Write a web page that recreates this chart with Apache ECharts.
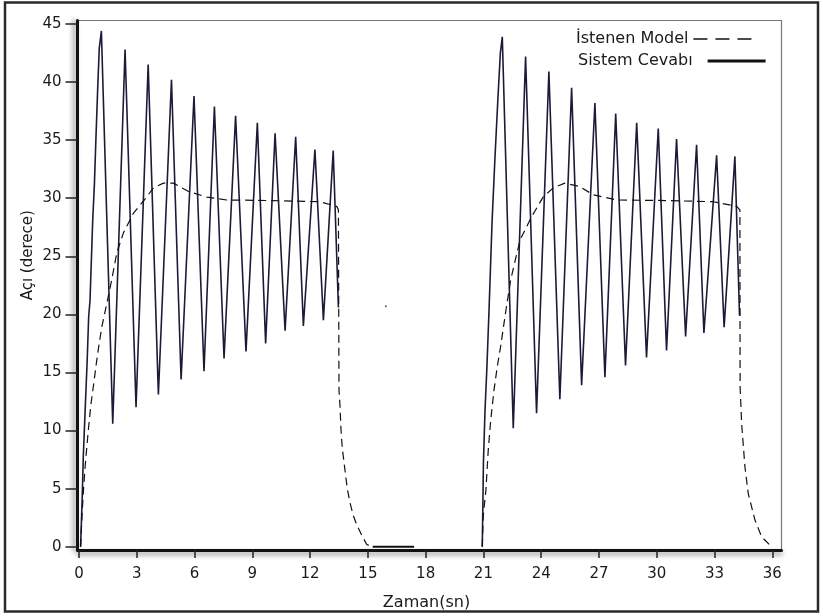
<!DOCTYPE html>
<html><head><meta charset="utf-8">
<script src="https://cdn.jsdelivr.net/npm/echarts@6/dist/echarts.min.js"></script>
<style>html,body{margin:0;padding:0;background:#fff}#c{width:823px;height:616px}</style>
</head><body><div id="c"></div>
<script>
// ---- tick labels ----
const xTicks = [0, 3, 6, 9, 12, 15, 18, 21, 24, 27, 30, 33, 36];
const yTicks = [0, 5, 10, 15, 20, 25, 30, 35, 40, 45];

// ---- Sistem Cevabı (system response), segment 1 ----
const sysRise1 = [[0.08,0],[0.16,4.0],[0.22,7.7],[0.33,12.3],[0.42,15.9],[0.50,19.8],[0.57,21.2],[0.71,28.1],[0.80,31.3],[0.88,35.3],[0.97,39.5],[1.05,42.9]];
const sysPeak1T = [1.16, 2.39, 3.59, 4.80, 5.97, 7.03, 8.13, 9.26, 10.18, 11.25, 12.25, 13.20];
const sysPeak1V = [44.4, 42.8, 41.5, 40.2, 38.8, 37.9, 37.1, 36.5, 35.6, 35.3, 34.2, 34.1];
const sysTrough1T = [1.75, 2.96, 4.12, 5.30, 6.49, 7.53, 8.67, 9.69, 10.70, 11.65, 12.69, 13.47];
const sysTrough1V = [10.6, 12.0, 13.1, 14.4, 15.1, 16.2, 16.8, 17.5, 18.6, 19.0, 19.5, 20.6];

// ---- Sistem Cevabı, flat zero part ----
const sysZero = [[15.25,0],[17.4,0]];

// ---- Sistem Cevabı, segment 2 ----
const sysRise2 = [[20.94,0],[20.97,3.4],[21.00,7.2],[21.08,11.6],[21.18,15.4],[21.29,20.3],[21.45,28.0],[21.60,33.5],[21.75,38.5],[21.88,42.5]];
const sysPeak2T = [21.98, 23.19, 24.40, 25.58, 26.79, 27.87, 28.96, 30.08, 31.03, 32.07, 33.11, 34.06];
const sysPeak2V = [43.9, 42.2, 40.9, 39.5, 38.2, 37.3, 36.5, 36.0, 35.1, 34.6, 33.7, 33.6];
const sysTrough2T = [22.55, 23.76, 24.97, 26.10, 27.31, 28.38, 29.47, 30.51, 31.50, 32.45, 33.50, 34.30];
const sysTrough2V = [10.2, 11.5, 12.7, 13.9, 14.6, 15.6, 16.3, 16.9, 18.1, 18.4, 18.9, 19.9];

// ---- İstenen Model (desired model) ----
const model1 = [[0.08,0],[0.15,2.5],[0.22,4.6],[0.32,7.0],[0.48,10.0],[0.62,12.3],[0.76,14.0],[0.90,15.8],[1.02,17.2],[1.19,19.0],[1.31,19.9],[1.45,21.0],[1.70,23.0],[1.96,25.3],[2.30,27.0],[2.82,28.7],[3.51,30.1],[3.86,30.9],[4.38,31.3],[4.90,31.3],[5.67,30.6],[6.63,30.1],[7.67,29.85],[10.0,29.8],[12.5,29.7],[13.38,29.3],[13.47,29.0],[13.50,13.5],[13.55,12.2],[13.60,10.2],[13.67,8.5],[13.81,6.6],[13.93,5.0],[14.07,3.8],[14.24,2.7],[14.42,1.9],[14.68,1.0],[14.94,0.2],[15.2,0]];
const model2 = [[20.94,0],[20.99,2.6],[21.13,4.9],[21.25,8.3],[21.38,10.9],[21.55,13.5],[21.72,15.5],[21.88,17.1],[22.2,20.7],[22.42,23.0],[22.9,26.4],[23.5,28.4],[24.1,30.1],[24.63,30.9],[25.23,31.3],[26.0,31.0],[26.7,30.3],[27.92,29.85],[30.5,29.8],[32.93,29.7],[34.15,29.3],[34.32,29.0],[34.33,13.8],[34.41,10.6],[34.58,6.9],[34.75,4.6],[35.1,2.3],[35.45,0.86],[35.96,0]];

// stray sample
const strayDot = [[15.93, 20.7]];

function buildSys(rise, pT, pV, tT, tV) {
  const d = rise.slice();
  for (let i = 0; i < pT.length; i++) {
    d.push([pT[i], pV[i]]);
    d.push([tT[i], tV[i]]);
  }
  return d;
}

const SYS = 'Sistem Cevabı', MOD = 'İstenen Model';
const sysColor = '#1b1b38', modColor = '#111';
const font = 'DejaVu Sans';

const chart = echarts.init(document.getElementById('c'), null, {renderer: 'canvas'});
const sysLine = {type: 'line', name: SYS, symbol: 'none', z: 3,
  lineStyle: {color: sysColor, width: 1.6}, itemStyle: {color: sysColor}};
const modLine = {type: 'line', name: MOD, symbol: 'none', z: 4,
  lineStyle: {color: modColor, width: 1.2, type: [8, 5]}, itemStyle: {color: modColor}};

chart.setOption({
  animation: false,
  backgroundColor: '#fff',
  grid: {left: 77.5, right: 41.5, top: 20.5, bottom: 66, show: true, borderColor: '#777', borderWidth: 1.2, backgroundColor: 'transparent'},
  legend: [
    {data: [{name: MOD, itemStyle: {opacity: 0}, lineStyle: {type: [14, 8], width: 1.5, color: modColor}}], left: 571, top: 26, align: 'right', orient: 'vertical',
     itemWidth: 66, itemHeight: 14, textStyle: {fontFamily: font, fontSize: 16, color: '#1a1a1a'}, selectedMode: false},
    {data: [{name: SYS, itemStyle: {opacity: 0}, lineStyle: {width: 3, color: '#111'}}], left: 573, top: 48, align: 'right', orient: 'vertical',
     itemWidth: 58, itemHeight: 14, textStyle: {fontFamily: font, fontSize: 16, color: '#1a1a1a', padding: [0, 10, 0, 0]}, selectedMode: false}
  ],
  xAxis: {
    type: 'value', min: -0.08, max: 36.48,
    name: 'Zaman(sn)', nameLocation: 'middle', nameGap: 45, nameMoveOverlap: false,
    nameTextStyle: {fontFamily: font, fontSize: 16, color: '#1a1a1a', padding: [0, 6, 0, 0]},
    axisLine: {show: true, onZero: false, lineStyle: {color: '#111', width: 3, shadowColor: 'rgba(0,0,0,0.45)', shadowBlur: 5, shadowOffsetY: 3}},
    axisTick: {show: true, length: 8, customValues: xTicks, lineStyle: {color: '#222', width: 1.5}},
    axisLabel: {customValues: xTicks, margin: 17, fontFamily: font, fontSize: 15, color: '#1a1a1a'},
    splitLine: {show: false}
  },
  yAxis: {
    type: 'value', min: -0.28, max: 45.3,
    name: 'Açı (derece)', nameLocation: 'middle', nameGap: 42, nameRotate: 90, nameMoveOverlap: false,
    nameTextStyle: {fontFamily: font, fontSize: 15, color: '#1a1a1a', padding: [0, 0, 0, 60]},
    axisLine: {show: true, onZero: false, lineStyle: {color: '#111', width: 3, shadowColor: 'rgba(0,0,0,0.45)', shadowBlur: 5, shadowOffsetX: -3}},
    axisTick: {show: true, length: 12, customValues: yTicks, lineStyle: {color: '#222', width: 1.5}},
    axisLabel: {customValues: yTicks, margin: 16, fontFamily: font, fontSize: 15, color: '#1a1a1a'},
    splitLine: {show: false}
  },
  graphic: [{type: 'rect', shape: {x: 5, y: 2.5, width: 813, height: 609}, style: {fill: 'none', stroke: '#2a2a2a', lineWidth: 2.5}, silent: true, z: 100}],
  series: [
    Object.assign({}, sysLine, {data: buildSys(sysRise1, sysPeak1T, sysPeak1V, sysTrough1T, sysTrough1V)}),
    Object.assign({}, sysLine, {data: sysZero, lineStyle: {color: '#111', width: 2.2}}),
    Object.assign({}, sysLine, {data: buildSys(sysRise2, sysPeak2T, sysPeak2V, sysTrough2T, sysTrough2V)}),
    Object.assign({}, modLine, {data: model1}),
    Object.assign({}, modLine, {data: model2}),
    {type: 'scatter', name: 'nokta', data: strayDot, symbolSize: 2, itemStyle: {color: '#333'}, silent: true}
  ]
});
</script></body></html>
